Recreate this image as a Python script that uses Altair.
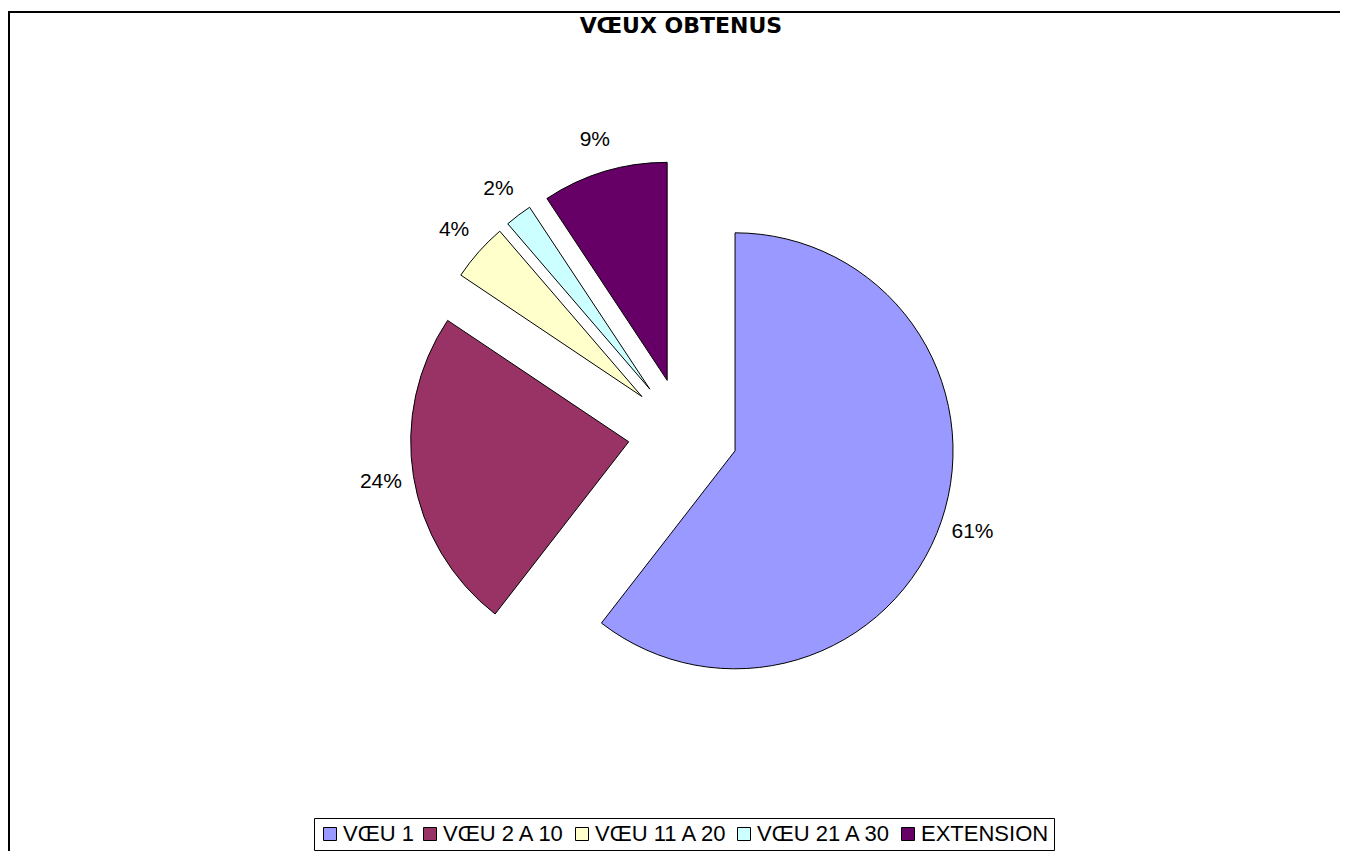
import altair as alt
import pandas as pd

categories = ["VŒU 1", "VŒU 2 A 10", "VŒU 11 A 20", "VŒU 21 A 30", "EXTENSION"]
values = [60.5, 23.9, 4.3, 2.0, 9.3]
labels = ["61%", "24%", "4%", "2%", "9%"]
colors = ["#9999FF", "#993366", "#FFFFCC", "#CCFFFF", "#660066"]

# layout constants (view coordinates)
CX, CY = 675, 425
R = 218
EXPLODE = 55
LABEL_R = 306
W, H = 1332, 843
FONT = "Liberation Sans"

df = pd.DataFrame({"cat": categories, "value": values, "label": labels,
                   "order": list(range(len(categories)))})

base = alt.Chart(df).transform_window(
    cum="sum(value)", sort=[alt.SortField("order")], frame=[None, 0]
).transform_joinaggregate(total="sum(value)").transform_calculate(
    a0="2*PI*(datum.cum - datum.value)/datum.total",
    a1="2*PI*datum.cum/datum.total",
).transform_calculate(
    mid="(datum.a0 + datum.a1)/2"
).transform_calculate(
    px=f"{CX} + {EXPLODE}*sin(datum.mid)",
    py=f"{CY} - {EXPLODE}*cos(datum.mid)",
    lx=f"{CX} + {LABEL_R}*sin(datum.mid)",
    ly=f"{CY} - {LABEL_R}*cos(datum.mid)",
)

arcs = base.mark_arc(outerRadius=R, stroke="black", strokeWidth=1).encode(
    theta=alt.Theta("a0:Q", scale=None, stack=None),
    theta2="a1:Q",
    x=alt.X("px:Q", scale=None, axis=None),
    y=alt.Y("py:Q", scale=None, axis=None),
    color=alt.Color(
        "cat:N",
        scale=alt.Scale(domain=categories, range=colors),
        sort=categories,
        legend=alt.Legend(
            orient="none", legendX=306, legendY=810, direction="horizontal",
            columns=5, title=None, strokeColor="black", padding=5,
            fillColor="white", symbolType="square", symbolSize=169,
            symbolStrokeColor="black", symbolStrokeWidth=1, symbolOpacity=1,
            labelFont=FONT, labelFontSize=22, labelColor="black",
            labelOffset=2, columnPadding=5, labelLimit=400,
        ),
    ),
    order=alt.Order("order:Q"),
)

text = base.mark_text(font=FONT, fontSize=21, color="black",
                      align="center", baseline="middle").encode(
    x=alt.X("lx:Q", scale=None, axis=None),
    y=alt.Y("ly:Q", scale=None, axis=None),
    text="label:N",
)

deco = alt.Data(values=[{}])
title = alt.Chart(deco).mark_text(
    text="VŒUX OBTENUS", font="DejaVu Sans", fontSize=22, fontWeight="bold",
    color="black", align="center", baseline="alphabetic",
).encode(x=alt.value(673), y=alt.value(25))

top_rule = alt.Chart(deco).mark_rule(color="black", strokeWidth=2).encode(
    x=alt.value(0), x2=alt.value(W), y=alt.value(4))
left_rule = alt.Chart(deco).mark_rule(color="black", strokeWidth=2).encode(
    x=alt.value(1), y=alt.value(4), y2=alt.value(H))

chart = alt.layer(top_rule, left_rule, title, arcs, text).properties(
    width=W, height=H, padding=0,
    autosize=alt.AutoSizeParams(type="none"),
).configure_view(stroke=None)

chart.save("out.html", embed_options={"renderer": "svg", "actions": False})
